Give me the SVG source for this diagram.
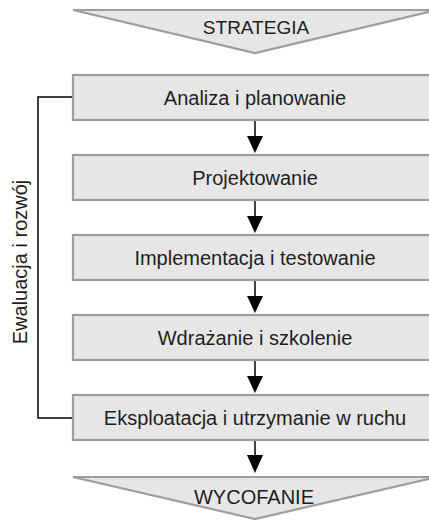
<svg xmlns="http://www.w3.org/2000/svg" width="429" height="520" viewBox="0 0 429 520">
<style>
.shape{fill:#e6e6e6;stroke:#9d9d9d;stroke-width:2.2}
.t{font-family:"Liberation Sans",Arial,sans-serif;font-size:20px;fill:#1e1e1e;text-anchor:middle}
.ln{stroke:#000;stroke-width:1.5;fill:none}
.hd{fill:#000}
</style>
<rect width="429" height="520" fill="#fff"/>
<g id="strategia">
<polygon class="shape" points="73,10 437,10 255,53"/>
<text class="t" x="256" y="34" font-size="19" style="font-size:19px">STRATEGIA</text>
</g>
<g id="analiza">
<rect class="shape" x="73" y="75" width="364" height="45"/>
<text class="t" x="255" y="104.5">Analiza i planowanie</text>
</g>
<g id="projektowanie">
<rect class="shape" x="73" y="155" width="364" height="45"/>
<text class="t" x="255" y="184.5">Projektowanie</text>
</g>
<g id="implementacja">
<rect class="shape" x="73" y="235" width="364" height="45"/>
<text class="t" x="255" y="264.5">Implementacja i testowanie</text>
</g>
<g id="wdrazanie">
<rect class="shape" x="73" y="315" width="364" height="45"/>
<text class="t" x="255" y="344.5">Wdrażanie i szkolenie</text>
</g>
<g id="eksploatacja">
<rect class="shape" x="73" y="395" width="364" height="45"/>
<text class="t" x="255" y="424.5">Eksploatacja i utrzymanie w ruchu</text>
</g>
<g id="wycofanie">
<polygon class="shape" points="73,477 437,477 255,519"/>
<text class="t" x="254" y="504">WYCOFANIE</text>
</g>
<g id="ewaluacja">
<text class="t" transform="translate(27,262) rotate(-90)">Ewaluacja i rozwój</text>
</g>
<g id="connectors">
<path class="ln" d="M72,97 H38 V418 H72"/>
<line class="ln" x1="255" y1="121" x2="255" y2="138"/>
<polygon class="hd" points="247,136 263,136 255,153"/>
<line class="ln" x1="255" y1="201" x2="255" y2="218"/>
<polygon class="hd" points="247,216 263,216 255,233"/>
<line class="ln" x1="255" y1="281" x2="255" y2="298"/>
<polygon class="hd" points="247,296 263,296 255,313"/>
<line class="ln" x1="255" y1="361" x2="255" y2="378"/>
<polygon class="hd" points="247,376 263,376 255,393"/>
<line class="ln" x1="255" y1="441" x2="255" y2="457"/>
<polygon class="hd" points="247,455 263,455 255,473"/>
</g>
</svg>
